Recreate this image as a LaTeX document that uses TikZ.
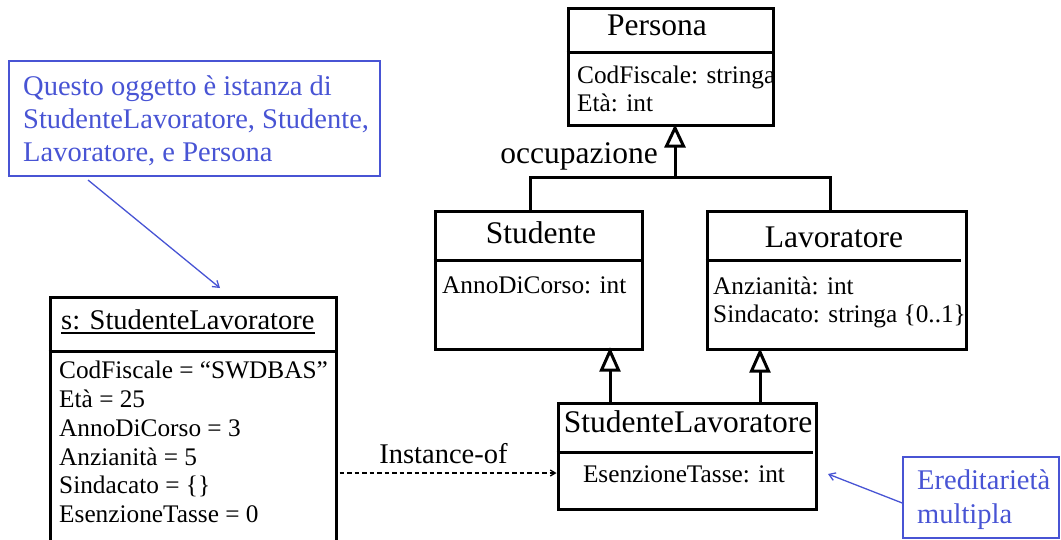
\documentclass[tikz,border=0pt]{standalone}
\usepackage{fontspec}
\setmainfont{Liberation Serif}
\usetikzlibrary{arrows.meta}
\definecolor{notecol}{RGB}{72,84,212}
\begin{document}
\begin{tikzpicture}[x=1pt,y=-1pt,
  box/.style={draw, line width=3pt, inner sep=0pt},
  notebox/.style={draw=notecol, line width=1.5pt, inner sep=0pt},
  ttl/.style={inner sep=0pt, font=\fontsize{31.5}{36}\selectfont},
  attr/.style={inner sep=0pt, font=\fontsize{25.3}{28}\selectfont, anchor=base west},
  big/.style={inner sep=0pt, font=\fontsize{28.5}{33}\selectfont},
  ntxt/.style={big, text=notecol, anchor=base west},
  sepline/.style={line width=3pt},
  treeline/.style={line width=3pt},
  tri/.style={draw, line width=3pt, fill=white, line join=miter, miter limit=4},
  barrow/.style={draw=notecol, line width=1.3pt, -{Straight Barb[length=6pt,width=8pt]}},
  instarrow/.style={line width=1.3pt, dash pattern=on 4.5pt off 3pt, -{Straight Barb[length=5pt,width=6pt]}}
]
\useasboundingbox (0,0) rectangle (1061,539);
\clip (0,0) rectangle (1061,539);

% class boxes
\node[box, minimum width=205pt, minimum height=117pt] (persona) at (670.5,66.5) {};
\node[box, minimum width=207pt, minimum height=138pt] (studente) at (538.5,280) {};
\node[box, minimum width=259pt, minimum height=138pt] (lavoratore) at (836.5,280) {};
\node[box, minimum width=258pt, minimum height=106pt] (sl) at (687,456) {};
\node[box, minimum width=286pt, minimum height=266pt] (obj) at (193,430) {};

% dividers
\draw[sepline] (persona.west |- 0,52) -- (persona.east |- 0,52);
\draw[sepline] (studente.west |- 0,260) -- (studente.east |- 0,260);
\draw[sepline] (lavoratore.west |- 0,260) -- (961,260);
\draw[sepline] (sl.west |- 0,452) -- (813,452);
\draw[sepline] (obj.west |- 0,351) -- (obj.east |- 0,351);

% texts
\node[ttl, anchor=base] (tP) at (657,35) {Persona};
\node[attr] (aP1) at (577,83) {CodFiscale: stringa};
\node[attr] (aP2) at (577,111) {Età: int};
\node[ttl, anchor=base east] (occ) at (658,163) {occupazione};
\node[ttl, anchor=base] (tS) at (541,243) {Studente};
\node[attr] (aS1) at (442,293) {AnnoDiCorso: int};
\node[ttl, anchor=base] (tL) at (834,247) {Lavoratore};
\node[attr] (aL1) at (713,294) {Anzianità: int};
\node[attr] (aL2) at (713,322) {Sindacato: stringa \{0..1\}};
\node[ttl, anchor=base] (tSL) at (688,432) {StudenteLavoratore};
\node[attr, anchor=base] (aSL) at (684,482) {EsenzioneTasse: int};

\node[big, anchor=base west] (tO) at (61,329) {s: StudenteLavoratore};
\draw[line width=1.5pt] ([yshift=-3.5pt]tO.south west) -- ([yshift=-3.5pt]tO.south east);
\node[attr] (o1) at (59,378) {CodFiscale = “SWDBAS”};
\node[attr] (o2) at (59,407) {Età = 25};
\node[attr] (o3) at (59,436) {AnnoDiCorso = 3};
\node[attr] (o4) at (59,465) {Anzianità = 5};
\node[attr] (o5) at (59,493.5) {Sindacato = \{\}};
\node[attr] (o6) at (59,522) {EsenzioneTasse = 0};

\node[big, anchor=base] (tI) at (443.5,463) {Instance-of};

% generalization: Persona <- Studente, Lavoratore
\coordinate (pj) at (675,177);
\coordinate (sj) at (530,177);
\coordinate (lj) at (830,177);
\coordinate (pt) at (675,128);
\draw[treeline] (pj) -- (pt);
\draw[treeline] (sj |- studente.north) -- (sj) -- (lj) -- (lj |- lavoratore.north);
\draw[tri] (pt) -- ++(-8.5,18) -- ++(17,0) -- cycle;

% generalization: Studente, Lavoratore <- StudenteLavoratore
\coordinate (st) at (610,351);
\coordinate (lt) at (760,352);
\draw[treeline] (st |- sl.north) -- (st);
\draw[treeline] (lt |- sl.north) -- (lt);
\draw[tri] (st) -- ++(-8.5,19) -- ++(17,0) -- cycle;
\draw[tri] (lt) -- ++(-8.5,19) -- ++(17,0) -- cycle;

% instance-of
\draw[instarrow] ([xshift=2pt]obj.east |- 0,473) -- (sl.west |- 0,473);

% notes
\node[notebox, minimum width=371pt, minimum height=115pt] (note1) at (194.5,118.5) {};
\node[ntxt] (n1a) at (23,95) {Questo oggetto è istanza di};
\node[ntxt] (n1b) at (23,128) {StudenteLavoratore, Studente,};
\node[ntxt] (n1c) at (23,161) {Lavoratore, e Persona};
\coordinate (c1) at (88,180);
\coordinate (c2) at (220,288);
\draw[barrow] (c1) -- (c2);

\node[notebox, minimum width=156pt, minimum height=81pt] (note2) at (981,497.5) {};
\node[ntxt] (n2a) at (917,489) {Ereditarietà};
\node[ntxt] (n2b) at (917,523) {multipla};
\coordinate (c3) at (828,474);
\draw[barrow] (note2.west |- 0,503) -- (c3);
\end{tikzpicture}
\end{document}
